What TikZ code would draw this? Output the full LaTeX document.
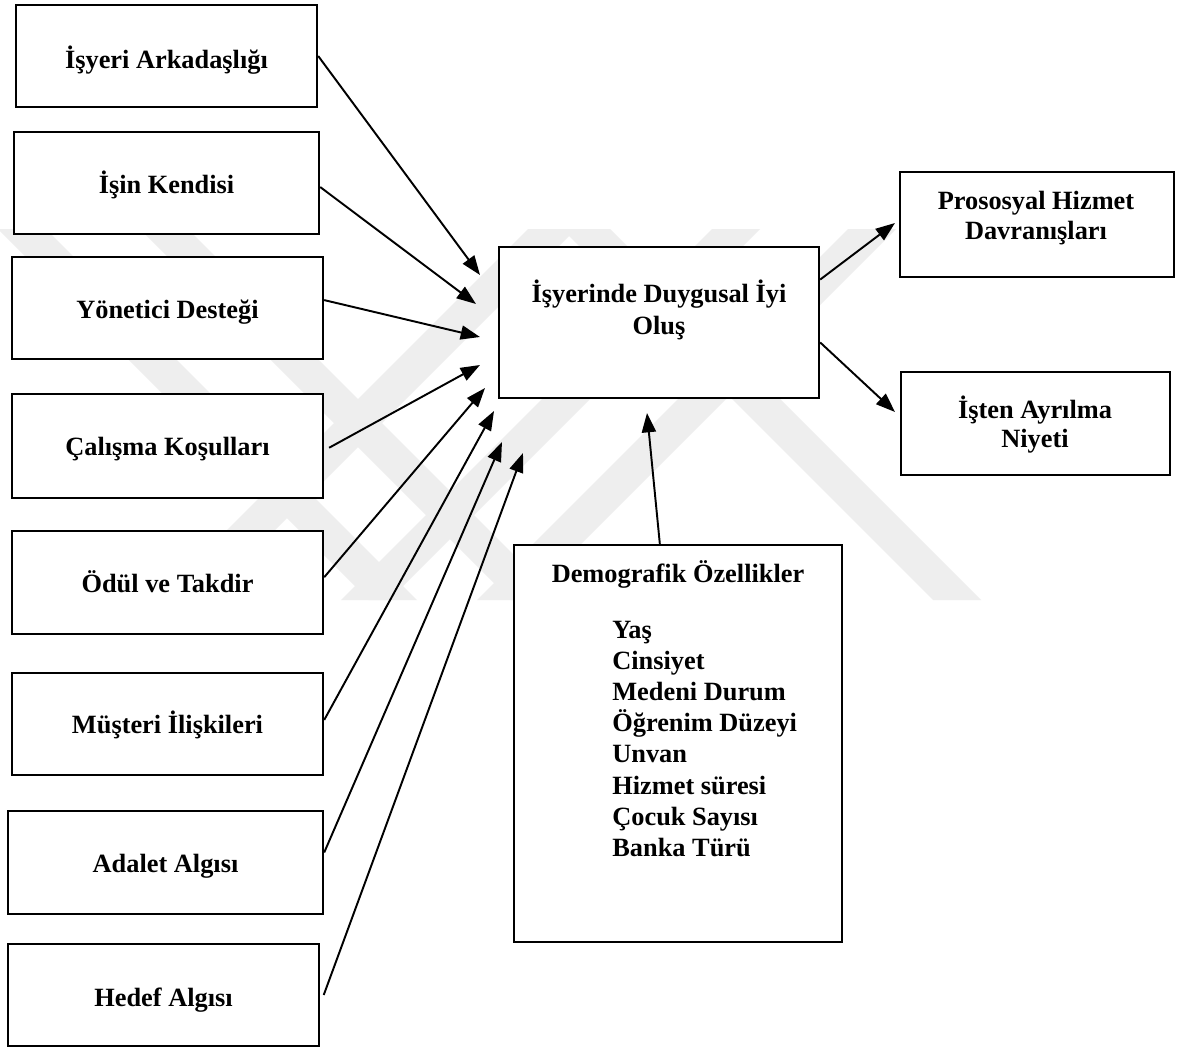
\documentclass[tikz,border=0pt]{standalone}
\usepackage{fontspec}
\setmainfont{Liberation Serif}
\usetikzlibrary{arrows.meta,calc}
\definecolor{wmgray}{gray}{0.935}
\tikzset{
  boxnode/.style={draw=black, fill=white, line width=1.4pt, rectangle, inner sep=0pt},
  lbl/.style={anchor=base, inner sep=0pt, font=\fontsize{15}{17.7}\selectfont\bfseries},
  conn/.style={line width=1.1pt, -{Triangle[length=11pt,width=8pt]}},
  bandback/.style={fill=wmgray, draw=none}
}
\begin{document}
\begin{tikzpicture}[x=0.02cm, y=-0.02cm]
\useasboundingbox (0,0) rectangle (1177,1048);
\fill[white] (0,0) rectangle (1177,1048);
% faint watermark
\begin{scope}
  \clip (0,229) rectangle (1177,600);
  \foreach \a in {-2,140,562}{
    \fill[bandback] (\a,229) -- (\a+48,229) -- (\a+419,600) -- (\a+371,600) -- cycle;
  }
  \foreach \a in {528,712,848}{
    \fill[bandback] (\a,229) -- (\a+48,229) -- (\a-323,600) -- (\a-371,600) -- cycle;
  }
\end{scope}
% boxes
\node[boxnode, minimum width=6.02cm, minimum height=2.04cm] (b1) at (166.5,56) {};
\node[boxnode, minimum width=6.10cm, minimum height=2.04cm] (b2) at (166.5,183) {};
\node[boxnode, minimum width=6.22cm, minimum height=2.04cm] (b3) at (167.5,308) {};
\node[boxnode, minimum width=6.22cm, minimum height=2.08cm] (b4) at (167.5,446) {};
\node[boxnode, minimum width=6.22cm, minimum height=2.06cm] (b5) at (167.5,582.5) {};
\node[boxnode, minimum width=6.22cm, minimum height=2.04cm] (b6) at (167.5,724) {};
\node[boxnode, minimum width=6.30cm, minimum height=2.06cm] (b7) at (165.5,862.5) {};
\node[boxnode, minimum width=6.22cm, minimum height=2.04cm] (b8) at (163.5,995) {};
\node[boxnode, minimum width=6.40cm, minimum height=3.02cm] (c) at (659,322.5) {};
\node[boxnode, minimum width=5.48cm, minimum height=2.10cm] (p) at (1037,224.5) {};
\node[boxnode, minimum width=5.38cm, minimum height=2.06cm] (q) at (1035.5,423.5) {};
\node[boxnode, minimum width=6.56cm, minimum height=7.94cm] (d) at (678,743.5) {};
% texts
\node[lbl] (t1) at (166.5,68) {İşyeri Arkadaşlığı};
\node[lbl] (t2) at (166.5,193) {İşin Kendisi};
\node[lbl] (t3) at (167.5,318) {Yönetici Desteği};
\node[lbl] (t4) at (167.5,455) {Çalışma Koşulları};
\node[lbl] (t5) at (167.5,592) {Ödül ve Takdir};
\node[lbl] (t6) at (167.5,733) {Müşteri İlişkileri};
\node[lbl] (t7) at (165.5,872) {Adalet Algısı};
\node[lbl] (t8) at (163.5,1006) {Hedef Algısı};
\node[lbl, font=\fontsize{15}{18.7}\selectfont\bfseries] (tc) at (659,302)
  {\begin{tabular}[t]{@{}c@{}}İşyerinde Duygusal İyi\\Oluş\end{tabular}};
\node[lbl, font=\fontsize{15}{17.6}\selectfont\bfseries] (tp) at (1036,209)
  {\begin{tabular}[t]{@{}c@{}}Prososyal Hizmet\\Davranışları\end{tabular}};
\node[lbl, font=\fontsize{15}{17}\selectfont\bfseries] (tq) at (1035,418)
  {\begin{tabular}[t]{@{}c@{}}İşten Ayrılma\\Niyeti\end{tabular}};
\node[lbl] (td) at (678,582) {Demografik Özellikler};
\node[lbl, anchor=base west, font=\fontsize{15}{17.75}\selectfont\bfseries] (tl) at (612,638)
  {\begin{tabular}[t]{@{}l@{}}Yaş\\Cinsiyet\\Medeni Durum\\Öğrenim Düzeyi\\Unvan\\Hizmet süresi\\Çocuk Sayısı\\Banka Türü\end{tabular}};
% arrow end points
\coordinate (e1) at (480,275);
\coordinate (e2) at (476,304);
\coordinate (e3) at (480,337);
\coordinate (e4) at (480,365);
\coordinate (e5) at (485,388);
\coordinate (e6) at (494,411);
\coordinate (e7) at (502,442);
\coordinate (e8) at (523,453);
\coordinate (e9) at (895,223);
\coordinate (e10) at (895,412);
\coordinate (e11) at (647,413);
% connectors
\draw[conn] (b1.east) -- (e1);
\draw[conn] ([yshift=-2.3pt]b2.east) -- (e2);
\draw[conn] ([yshift=4.5pt]b3.east) -- (e3);
\draw[conn] ([xshift=2.8pt,yshift=-1pt]b4.east) -- (e4);
\draw[conn] ([yshift=3pt]b5.east) -- (e5);
\draw[conn] ([yshift=2.3pt]b6.east) -- (e6);
\draw[conn] ([yshift=5.7pt]b7.east) -- (e7);
\draw[conn] ([xshift=2pt]b8.east) -- (e8);
\draw[conn] ($(c.north east)!0.22!(c.south east)$) -- (e9);
\draw[conn] ($(c.north east)!0.63!(c.south east)$) -- (e10);
\draw[conn] ($(d.north west)!0.445!(d.north east)$) -- (e11);
\end{tikzpicture}
\end{document}
